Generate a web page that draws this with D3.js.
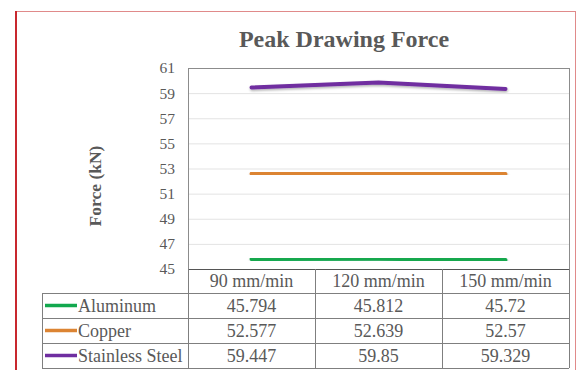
<!DOCTYPE html>
<html>
<head>
<meta charset="utf-8">
<script src="https://cdn.jsdelivr.net/npm/d3@7/dist/d3.min.js"></script>
<style>
  html, body { margin: 0; padding: 0; background: #fff; }
  svg { display: block; }
  svg text { font-family: "Liberation Serif", "Times New Roman", serif; fill: #595959; }
</style>
</head>
<body>
<svg id="chart" width="586" height="370" font-family="Liberation Serif, Times New Roman, serif"></svg>
<script>
// Peak drawing force by drawing speed, with a data table below the plot
const speeds = ["90 mm/min", "120 mm/min", "150 mm/min"];
const aluminum = [45.794, 45.812, 45.72];
const copper = [52.577, 52.639, 52.57];
const stainless = [59.447, 59.85, 59.329];
const yTicks = [45, 47, 49, 51, 53, 55, 57, 59, 61];

const series = [
  { name: "Aluminum", values: aluminum, color: "#12a84e" },
  { name: "Copper", values: copper, color: "#dc8433" },
  { name: "Stainless Steel", values: stainless, color: "#6f2ea0" }
];

const serif = '"Liberation Serif", "Times New Roman", serif';
const svg = d3.select("#chart");
const plot = { left: 188, right: 569, top: 68, bottom: 269 };
const table = { left: 42, headerBottom: 293, rowH: 25 };

// outer frame
svg.append("rect").attr("x", 15.5).attr("y", 11.5).attr("width", 560).attr("height", 370)
  .attr("fill", "#fff").attr("stroke", "#e08a8a").attr("stroke-width", 1);
svg.append("line").attr("x1", 16).attr("x2", 16).attr("y1", 11).attr("y2", 370)
  .attr("stroke", "#c8282e").attr("stroke-width", 2);

// title
svg.append("text").attr("x", 344).attr("y", 47).attr("text-anchor", "middle")
  .attr("font-size", 24).attr("font-weight", "bold").text("Peak Drawing Force");

const x = d3.scaleBand().domain(speeds).range([plot.left, plot.right]);
const y = d3.scaleLinear().domain([45, 61]).range([plot.bottom, plot.top]);

// gridlines
svg.append("g").selectAll("line").data(yTicks.filter(t => t > 45)).join("line")
  .attr("x1", plot.left).attr("x2", plot.right)
  .attr("y1", d => y(d) + 0.5).attr("y2", d => y(d) + 0.5)
  .attr("stroke", "#e3e3e3").attr("stroke-width", 1);

// plot frame
svg.append("rect").attr("x", plot.left + 0.5).attr("y", plot.top + 0.5)
  .attr("width", plot.right - plot.left).attr("height", plot.bottom - plot.top)
  .attr("fill", "none").attr("stroke", "#8c8c8c").attr("stroke-width", 1);

// y axis
const yAxis = svg.append("g").attr("transform", `translate(${plot.left},0)`)
  .call(d3.axisLeft(y).tickValues(yTicks).tickSize(0).tickPadding(13).tickFormat(d3.format("d")))
  .attr("font-family", serif);
yAxis.select(".domain").remove();
yAxis.selectAll("text").attr("font-size", 15.5)
  .style("font-family", serif).attr("fill", "#595959");

svg.append("text").attr("transform", "translate(101,186) rotate(-90)")
  .attr("text-anchor", "middle").attr("font-size", 17.5).attr("font-weight", "bold").text("Force (kN)");

// soft shadow under the series lines
const defs = svg.append("defs");
const f = defs.append("filter").attr("id", "shadow").attr("x", "-5%").attr("y", "-50%")
  .attr("width", "110%").attr("height", "200%");
f.append("feDropShadow").attr("dx", 0.5).attr("dy", 1.5).attr("stdDeviation", 1)
  .attr("flood-color", "#000").attr("flood-opacity", 0.3);

const line = d3.line().x((d, i) => x(speeds[i]) + x.bandwidth() / 2).y(d => y(d));
svg.append("g").selectAll("path").data(series).join("path")
  .attr("d", d => line(d.values)).attr("fill", "none")
  .attr("stroke", d => d.color).attr("stroke-width", 4).attr("stroke-linecap", "round")
  .attr("filter", "url(#shadow)");

// data table
const tg = svg.append("g").attr("font-family", serif);
const bottom = table.headerBottom + table.rowH * series.length;
const stroke = "#7f7f7f";
// horizontal lines
tg.append("line").attr("x1", plot.left).attr("x2", plot.right)
  .attr("y1", plot.bottom + 0.5).attr("y2", plot.bottom + 0.5).attr("stroke", "#555");
[0, 1, 2, 3].forEach(i => {
  const yy = table.headerBottom + i * table.rowH + 0.5;
  tg.append("line").attr("x1", table.left).attr("x2", plot.right)
    .attr("y1", yy).attr("y2", yy).attr("stroke", stroke);
});
// vertical lines
tg.append("line").attr("x1", table.left + 0.5).attr("x2", table.left + 0.5)
  .attr("y1", table.headerBottom).attr("y2", bottom).attr("stroke", stroke);
speeds.forEach(s => {
  tg.append("line").attr("x1", x(s) + 0.5).attr("x2", x(s) + 0.5)
    .attr("y1", plot.bottom).attr("y2", bottom).attr("stroke", stroke);
});
tg.append("line").attr("x1", plot.right + 0.5).attr("x2", plot.right + 0.5)
  .attr("y1", plot.bottom).attr("y2", bottom).attr("stroke", stroke);

// header labels
tg.selectAll("text.hdr").data(speeds).join("text").attr("class", "hdr")
  .attr("x", d => x(d) + x.bandwidth() / 2).attr("y", (plot.bottom + table.headerBottom) / 2 + 6)
  .attr("text-anchor", "middle").attr("font-size", 18).text(d => d);

// rows
series.forEach((s, r) => {
  const cy = table.headerBottom + r * table.rowH + table.rowH / 2 + 6;
  tg.append("line").attr("x1", 45).attr("x2", 77)
    .attr("y1", cy - 6).attr("y2", cy - 6).attr("stroke", s.color).attr("stroke-width", 3.5);
  tg.append("text").attr("x", 78).attr("y", cy).attr("font-size", 18).text(s.name);
  s.values.forEach((v, i) => {
    tg.append("text").attr("x", x(speeds[i]) + x.bandwidth() / 2).attr("y", cy)
      .attr("text-anchor", "middle").attr("font-size", 18).text(String(v));
  });
});
</script>
</body>
</html>
